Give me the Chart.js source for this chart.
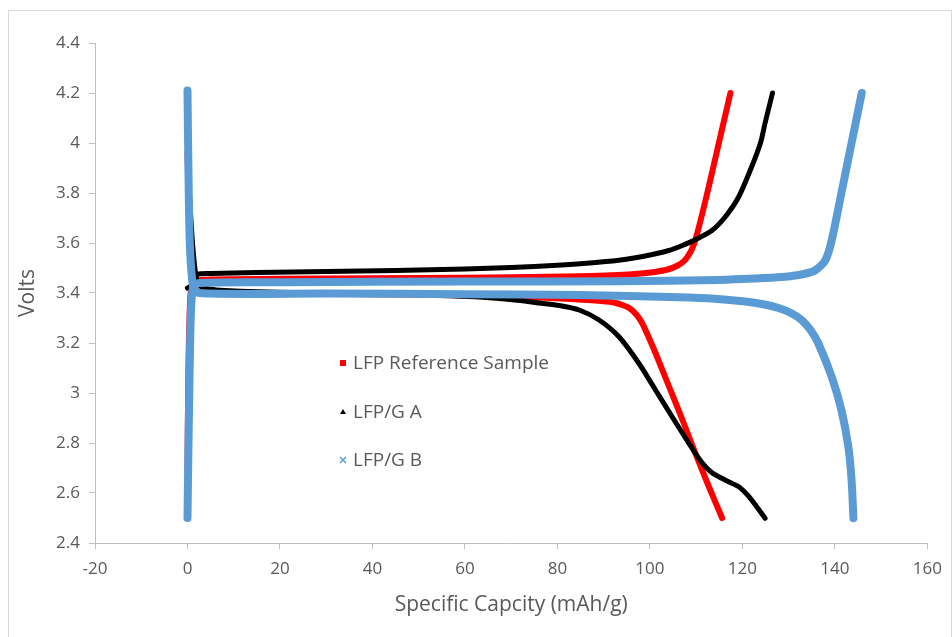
<!DOCTYPE html>
<html>
<head>
<meta charset="utf-8">
<script src="https://cdn.jsdelivr.net/npm/chart.js@4.4.1/dist/chart.umd.min.js"></script>
<style>
  html, body { margin:0; padding:0; background:#fff; }
  #wrap { position:relative; width:952px; height:637px; }
  #frame { position:absolute; left:8px; top:10px; width:944px; height:640px; border:1px solid #d9d9d9; box-sizing:border-box; }
  #cv { position:absolute; left:0; top:0; }
</style>
</head>
<body>
<div id="wrap">
  <div id="frame"></div>
  <canvas id="cv" width="952" height="637"></canvas>
</div>
<script>
// capacity (mAh/g) and voltage (V) for each charge / discharge branch
const seriesNames = ['LFP Reference Sample', 'LFP/G A', 'LFP/G B'];
const seriesColors = ['#ff0000', '#000000', '#5b9bd5'];

const refChargeCap = [0, 0.2, 0.6, 1.2, 3, 10, 30, 50, 70, 85, 93, 98, 101, 104, 106, 107.5, 108.8, 109.6, 110.6, 112.4, 114.9, 117.4];
const refChargeV   = [2.69, 3.1, 3.38, 3.44, 3.452, 3.455, 3.458, 3.46, 3.463, 3.467, 3.472, 3.478, 3.484, 3.495, 3.51, 3.53, 3.565, 3.6, 3.665, 3.8, 4.0, 4.2];
const refDischCap  = [0, 0.3, 0.7, 1.2, 2.5, 10, 30, 50, 65, 75, 82, 88, 91.9, 94, 95.5, 97, 98.3, 99.8, 101.2, 104.1, 107.0, 109.8, 112.7, 115.6];
const refDischV    = [3.965, 3.75, 3.55, 3.44, 3.405, 3.4, 3.397, 3.393, 3.388, 3.383, 3.377, 3.37, 3.363, 3.352, 3.34, 3.315, 3.28, 3.22, 3.16, 3.027, 2.894, 2.76, 2.627, 2.5];

const gaChargeCap = [0, 0.8, 1.5, 2.2, 5, 15, 30, 45, 60, 70, 80, 87, 93.3, 96.9, 100.5, 104.1, 107, 109.8, 113.4, 116.3, 119.2, 122.0, 123.9, 124.9, 126.5];
const gaChargeV   = [3.42, 3.43, 3.455, 3.475, 3.478, 3.482, 3.486, 3.49, 3.496, 3.502, 3.511, 3.52, 3.531, 3.541, 3.554, 3.57, 3.59, 3.613, 3.65, 3.705, 3.785, 3.905, 4.0, 4.08, 4.2];
const gaDischCap  = [0, 0.4, 1, 1.6, 2.2, 3, 5, 8, 15, 30, 45, 55, 62, 68, 72, 76, 80.4, 84.7, 89.0, 93.3, 97.6, 101.2, 104.8, 108.4, 110.5, 112.0, 113.5, 114.9, 117, 119.2, 120.7, 122.0, 124.9];
const gaDischV    = [3.96, 3.8, 3.62, 3.5, 3.44, 3.425, 3.415, 3.41, 3.405, 3.4, 3.395, 3.39, 3.385, 3.377, 3.37, 3.36, 3.35, 3.332, 3.292, 3.225, 3.119, 3.012, 2.905, 2.799, 2.74, 2.705, 2.68, 2.665, 2.645, 2.625, 2.6, 2.572, 2.499];

const gbChargeCap = [0, 0.3, 0.7, 1.2, 2.5, 20, 60, 93.3, 114.9, 125, 129.2, 133, 135.7, 137.9, 139.3, 141.4, 143.6, 145.8];
const gbChargeV   = [2.5, 2.9, 3.3, 3.42, 3.44, 3.443, 3.446, 3.447, 3.452, 3.46, 3.465, 3.475, 3.49, 3.53, 3.61, 3.8, 4.0, 4.2];
const gbDischCap  = [0, 0.2, 0.5, 1.2, 2.5, 30, 60, 84.7, 106.3, 114, 120.6, 124.5, 127.8, 130.5, 132.8, 134.8, 136.4, 139.3, 141.4, 142.9, 143.6, 144.0];
const gbDischV    = [4.21, 3.9, 3.6, 3.43, 3.4, 3.398, 3.395, 3.392, 3.383, 3.377, 3.366, 3.355, 3.34, 3.32, 3.292, 3.25, 3.199, 3.065, 2.932, 2.785, 2.652, 2.499];

const xTickMin = -20, xTickMax = 160, xStep = 20;
const yTickMin = 2.4, yTickMax = 4.4, yStep = 0.2;

const pts = (cap, v) => cap.map((c, i) => ({ x: c, y: v[i] }));

const branches = [
  { s: 0, cap: refChargeCap, v: refChargeV },
  { s: 0, cap: refDischCap,  v: refDischV },
  { s: 1, cap: gaChargeCap,  v: gaChargeV },
  { s: 1, cap: gaDischCap,   v: gaDischV },
  { s: 2, cap: gbChargeCap,  v: gbChargeV },
  { s: 2, cap: gbDischCap,   v: gbDischV },
];
const widths = [6, 5, 8];

const datasets = branches.map(b => ({
  label: seriesNames[b.s],
  data: pts(b.cap, b.v),
  showLine: true,
  borderColor: seriesColors[b.s],
  backgroundColor: seriesColors[b.s],
  borderWidth: widths[b.s],
  pointRadius: 0,
  tension: 0.25,
  borderCapStyle: 'round',
  borderJoinStyle: 'round',
  order: 3 - b.s
}));

const GRAY = '#595959';
const FONT = "'Open Sans', sans-serif";

// legend sits inside the plot area
const insideLegend = {
  id: 'insideLegend',
  afterDraw(chart){
    const ctx = chart.ctx;
    const mx = 343, ys = [363, 412, 460];
    ctx.save();
    ctx.font = "19px " + FONT;
    ctx.textBaseline = 'middle';
    ctx.textAlign = 'left';
    seriesNames.forEach((name, i) => {
      const y = ys[i];
      ctx.fillStyle = seriesColors[i];
      ctx.strokeStyle = seriesColors[i];
      if (i === 0) {
        ctx.fillRect(mx - 3, y - 3, 6, 6);
      } else if (i === 1) {
        ctx.beginPath();
        ctx.moveTo(mx, y - 3); ctx.lineTo(mx + 3, y + 2); ctx.lineTo(mx - 3, y + 2);
        ctx.closePath(); ctx.fill();
      } else {
        ctx.lineWidth = 1.5;
        ctx.beginPath();
        ctx.moveTo(mx - 3, y - 3); ctx.lineTo(mx + 3, y + 3);
        ctx.moveTo(mx + 3, y - 3); ctx.lineTo(mx - 3, y + 3);
        ctx.stroke();
      }
      ctx.fillStyle = GRAY;
      ctx.fillText(name, mx + 10, y + 1);
    });
    ctx.restore();
  }
};

new Chart(document.getElementById('cv'), {
  type: 'scatter',
  data: { datasets },
  options: {
    responsive: false,
    animation: false,
    layout: { padding: { top: 43, right: 23, left: 0, bottom: 0 } },
    plugins: { legend: { display: false }, tooltip: { enabled: false } },
    scales: {
      x: {
        type: 'linear', min: xTickMin, max: xTickMax,
        afterFit: s => { s.height = 94; },
        ticks: { stepSize: xStep, color: GRAY, font: { family: FONT, size: 17 }, padding: 10, maxRotation: 0 },
        grid: { drawOnChartArea: false, color: '#bfbfbf', tickLength: 6, tickColor: '#bfbfbf' },
        border: { color: '#bfbfbf', width: 1 },
        title: { display: true, text: 'Specific Capcity (mAh/g)', color: GRAY, font: { family: FONT, size: 21 }, padding: { top: 0, bottom: 19 } }
      },
      y: {
        type: 'linear', min: yTickMin, max: yTickMax,
        afterFit: s => { s.width = 95; },
        ticks: { stepSize: yStep, color: GRAY, font: { family: FONT, size: 17 }, padding: 9,
          callback: v => String(Number(v.toFixed(1))) },
        grid: { drawOnChartArea: false, color: '#bfbfbf', tickLength: 6, tickColor: '#bfbfbf' },
        border: { color: '#bfbfbf', width: 1 },
        title: { display: true, text: 'Volts', color: GRAY, font: { family: FONT, size: 21 }, padding: { top: 15, bottom: 0 } }
      }
    }
  },
  plugins: [insideLegend]
});
</script>
</body>
</html>
